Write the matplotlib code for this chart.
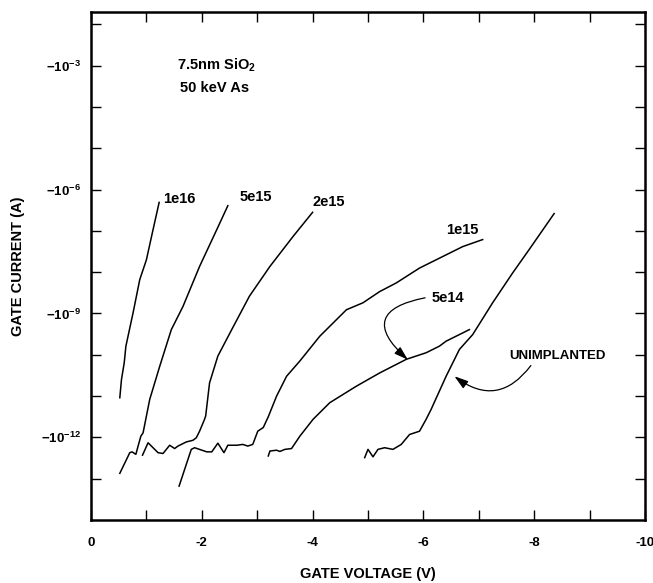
import numpy as np
import matplotlib.pyplot as plt
from matplotlib.ticker import FixedLocator, FuncFormatter, NullFormatter

plt.rcParams['font.family'] = ['Liberation Sans', 'DejaVu Sans']
plt.rcParams['font.weight'] = 'bold'
plt.rcParams['axes.labelweight'] = 'bold'
plt.rcParams['mathtext.fontset'] = 'custom'
plt.rcParams['mathtext.rm'] = 'Liberation Sans:bold'
plt.rcParams['mathtext.it'] = 'Liberation Sans:bold'
plt.rcParams['mathtext.bf'] = 'Liberation Sans:bold'

# gate voltage (V) and log10 |gate current| (A)
v_1e16 = [-0.52, -0.55, -0.60, -0.63, -0.76, -0.88, -1.00, -1.12, -1.23]
e_1e16 = [-11.04, -10.60, -10.19, -9.79, -8.98, -8.18, -7.70, -6.97, -6.31]

v_5e15 = [-0.52, -0.70, -0.74, -0.81, -0.85, -0.90, -0.94, -1.06, -1.24,
          -1.45, -1.66, -1.96, -2.27, -2.47]
e_5e15 = [-12.87, -12.37, -12.35, -12.41, -12.21, -11.97, -11.89, -11.08, -10.28,
          -9.39, -8.83, -7.86, -6.97, -6.39]

v_2e15 = [-0.93, -1.03, -1.21, -1.30, -1.42, -1.51, -1.57, -1.72, -1.84, -1.90,
          -1.96, -2.05, -2.07, -2.14, -2.29, -2.54, -2.86, -3.23, -3.65, -4.00]
e_2e15 = [-12.43, -12.13, -12.37, -12.39, -12.19, -12.27, -12.21, -12.11, -12.07, -12.01,
          -11.85, -11.56, -11.48, -10.68, -10.03, -9.39, -8.58, -7.86, -7.13, -6.55]

v_1e15 = [-1.59, -1.81, -1.87, -2.09, -2.18, -2.29, -2.40, -2.47, -2.63, -2.74,
          -2.83, -2.92, -3.01, -3.11, -3.20, -3.35, -3.53, -3.77, -4.13, -4.31,
          -4.61, -4.91, -5.21, -5.51, -5.93, -6.29, -6.71, -7.07]
e_1e15 = [-13.18, -12.29, -12.25, -12.35, -12.35, -12.14, -12.37, -12.19, -12.19, -12.17,
          -12.21, -12.17, -11.85, -11.76, -11.50, -11.00, -10.52, -10.15, -9.55, -9.31,
          -8.91, -8.74, -8.47, -8.26, -7.90, -7.66, -7.38, -7.21]

v_5e14 = [-3.20, -3.23, -3.35, -3.41, -3.50, -3.62, -3.77, -4.01, -4.31, -4.79,
          -5.21, -5.69, -6.05, -6.29, -6.41, -6.65, -6.83]
e_5e14 = [-12.45, -12.33, -12.31, -12.34, -12.29, -12.27, -11.97, -11.56, -11.16, -10.76,
          -10.44, -10.11, -9.95, -9.79, -9.67, -9.51, -9.39]

v_unimp = [-4.94, -5.00, -5.09, -5.18, -5.30, -5.45, -5.60, -5.75, -5.93, -6.05,
           -6.14, -6.41, -6.65, -6.89, -7.25, -7.61, -7.91, -8.36]
e_unimp = [-12.49, -12.29, -12.47, -12.29, -12.25, -12.29, -12.17, -11.93, -11.85, -11.56,
           -11.32, -10.52, -9.87, -9.51, -8.74, -8.02, -7.45, -6.58]

curves = [(v_1e16, e_1e16), (v_5e15, e_5e15), (v_2e15, e_2e15),
          (v_1e15, e_1e15), (v_5e14, e_5e14), (v_unimp, e_unimp)]

# curve labels: text, voltage, log10 current of the text anchor
labels = ["1e16", "5e15", "2e15", "1e15"]
label_v = [-1.30, -2.69, -4.00, -6.41]
label_e = [-6.22, -6.17, -6.29, -6.99]

fig = plt.figure(figsize=(6.53, 5.83), dpi=100)
ax = fig.add_axes([91 / 653, 1 - 520 / 583, 554 / 653, 508 / 583])

for v, e in curves:
    ax.plot(v, 10.0 ** np.array(e), color='black', lw=1.1)

for t, lv, le in zip(labels, label_v, label_e):
    ax.text(lv, 10.0 ** le, t, ha='left', va='center', fontsize=10.5)

# arrows with their labels
arrow_kw = dict(arrowstyle='-|>,head_length=0.7,head_width=0.22', color='black',
                lw=0.9, mutation_scale=12, shrinkA=0, shrinkB=0)
ax.text(-6.14, 10.0 ** -8.62, "5e14", ha='left', va='center', fontsize=10.5)
ax.annotate("", xy=(-5.72, 10.0 ** -10.12), xytext=(-6.03, 10.0 ** -8.62),
            arrowprops=dict(connectionstyle='arc3,rad=1.0', **arrow_kw))
ax.text(-7.55, 10.0 ** -10.03, "UNIMPLANTED", ha='left', va='center', fontsize=9.5)
ax.annotate("", xy=(-6.56, 10.0 ** -10.52), xytext=(-7.94, 10.0 ** -10.26),
            arrowprops=dict(connectionstyle='arc3,rad=-0.5', **arrow_kw))

ax.text(0.155, 0.896, "7.5nm SiO$_2$", transform=ax.transAxes, ha='left', va='center',
        fontsize=10.5)
ax.text(0.160, 0.850, "50 keV As", transform=ax.transAxes, ha='left', va='center',
        fontsize=10.5)

ax.set_yscale('log')
ax.set_xlim(0, -10)
ax.set_ylim(1e-14, 10 ** -1.7)

ax.xaxis.set_major_locator(FixedLocator([0, -2, -4, -6, -8, -10]))
ax.xaxis.set_minor_locator(FixedLocator([-1, -3, -5, -7, -9]))
ax.xaxis.set_major_formatter(FuncFormatter(lambda x, _: f"{x:g}"))

ax.yaxis.set_major_locator(FixedLocator([1e-3, 1e-6, 1e-9, 1e-12]))
ax.yaxis.set_minor_locator(FixedLocator([10.0 ** k for k in range(-13, -1) if k % 3]))
ax.yaxis.set_major_formatter(
    FuncFormatter(lambda y, _: r"$\mathregular{-10^{%d}}$" % round(np.log10(y))))
ax.yaxis.set_minor_formatter(NullFormatter())

ax.tick_params(which='both', direction='in', length=7, width=1.0,
               top=True, right=True, labelsize=9.5)
ax.tick_params(axis='x', pad=12)
ax.tick_params(axis='y', pad=7)
for s in ax.spines.values():
    s.set_linewidth(1.8)

ax.set_xlabel("GATE VOLTAGE (V)", fontsize=10.5, labelpad=13)
ax.set_ylabel("GATE CURRENT (A)", fontsize=10.5, labelpad=12)

fig.savefig("out.png", dpi=100)
